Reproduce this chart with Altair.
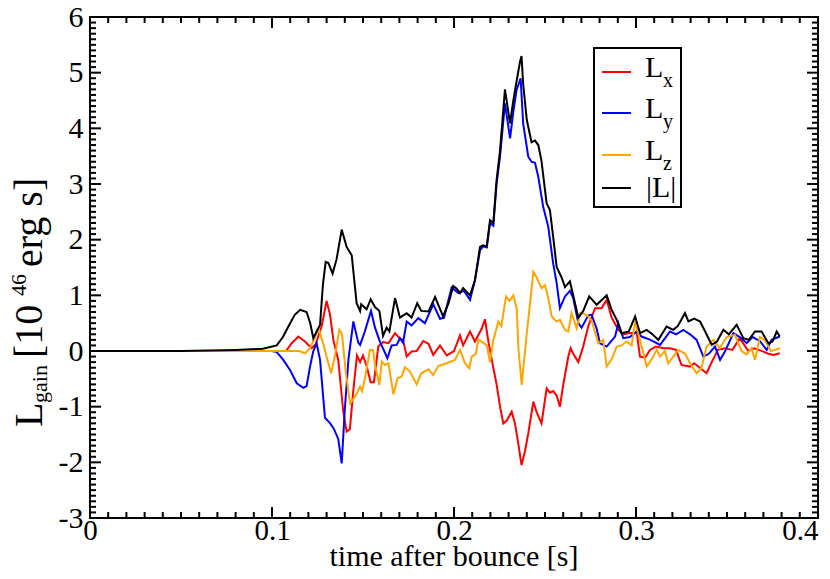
import altair as alt
import pandas as pd

# ---------------- data ----------------
t_lx = [0.0, 0.1, 0.1077, 0.1108, 0.1145, 0.1181, 0.1218, 0.124, 0.1273, 0.13, 0.1319, 0.1337, 0.1364, 0.1392,
        0.141, 0.1428, 0.1447, 0.1467, 0.1484, 0.15, 0.152, 0.1542, 0.156, 0.1584, 0.161, 0.164, 0.1676, 0.1703,
        0.172, 0.174, 0.1767, 0.1795, 0.1831, 0.186, 0.1886, 0.1923, 0.196, 0.2, 0.2033, 0.205, 0.2088, 0.2115,
        0.2152, 0.217, 0.219, 0.2216, 0.2234, 0.2253, 0.2271, 0.229, 0.2317, 0.2335, 0.2353, 0.2371, 0.239, 0.2408,
        0.2436, 0.2454, 0.2481, 0.2509, 0.2527, 0.2545, 0.2564, 0.2582, 0.26, 0.2628, 0.2641, 0.2655, 0.2683, 0.271,
        0.2738, 0.2775, 0.2811, 0.2839, 0.2866, 0.2903, 0.293, 0.2957, 0.3004, 0.3022, 0.305, 0.3077, 0.311, 0.315,
        0.3187, 0.322, 0.325, 0.3297, 0.332, 0.335, 0.3388, 0.3416, 0.345, 0.349, 0.353, 0.357, 0.3617, 0.365, 0.37,
        0.3727, 0.3755, 0.379]
v_lx = [0.0, 0.0, 0.0, 0.14, 0.26, 0.17, 0.05, 0.12, 0.45, 0.9, 0.65, 0.2, -0.16, -1.1,
        -1.45, -1.4, -0.7, -0.08, -0.2, -0.08, -0.27, -0.56, -0.56, 0.08, 0.16, 0.14, 0.32, 0.22,
        0.2, -0.1, -0.01, 0.0, 0.18, 0.13, -0.07, 0.1, -0.08, 0.0, 0.28, 0.1, 0.35, 0.17,
        0.4, 0.57, 0.15, -0.3, -0.6, -1.0, -1.3, -1.25, -1.09, -1.3, -1.66, -2.05, -1.8, -1.48,
        -0.91, -1.1, -1.3, -0.67, -0.75, -0.72, -0.8, -1.0, -0.61, -0.1, 0.05, -0.05, -0.2, 0.08,
        0.45, 0.77, 0.77, 0.92, 0.6, 0.38, 0.3, 0.32, 0.33, -0.1, -0.12, 0.02, 0.08, 0.05,
        0.05, 0.02, -0.25, -0.28, -0.22, -0.3, -0.4, -0.2, 0.02, 0.05, 0.02, 0.23, 0.0, 0.05, -0.01,
        -0.05, -0.07, -0.04]

t_ly = [0.0, 0.1, 0.1026, 0.106, 0.1099, 0.1136, 0.1172, 0.119, 0.1209, 0.1227, 0.1245, 0.1264, 0.1291, 0.132,
        0.134, 0.1364, 0.1383, 0.14, 0.142, 0.1447, 0.1474, 0.1484, 0.151, 0.1544, 0.1566, 0.1593, 0.1634, 0.1657,
        0.1685, 0.1703, 0.172, 0.174, 0.1767, 0.1804, 0.184, 0.1886, 0.1923, 0.1945, 0.1987, 0.2024, 0.2055, 0.2088,
        0.2115, 0.2143, 0.216, 0.218, 0.2198, 0.2216, 0.2234, 0.2253, 0.228, 0.2308, 0.2326, 0.2344, 0.2366, 0.238,
        0.2408, 0.2426, 0.2445, 0.2463, 0.249, 0.2518, 0.2545, 0.2564, 0.2582, 0.261, 0.2637, 0.2655, 0.2683, 0.2701,
        0.2738, 0.2756, 0.2784, 0.2802, 0.2839, 0.2885, 0.2903, 0.293, 0.2966, 0.3004, 0.303, 0.308, 0.3132, 0.3187,
        0.322, 0.326, 0.3297, 0.3333, 0.337, 0.34, 0.3434, 0.3462, 0.349, 0.3535, 0.357, 0.3608, 0.364, 0.368,
        0.3718, 0.3745, 0.379]
v_ly = [0.0, 0.0, -0.02, -0.15, -0.34, -0.58, -0.66, -0.63, -0.28, 0.0, 0.14, -0.16, -1.2, -1.3,
        -1.4, -1.58, -2.02, -1.05, -0.15, 0.53, 0.15, 0.11, 0.35, 0.72, 0.42, 0.17, -0.13, 0.1,
        0.11, 0.23, 0.15, 0.53, 0.46, 0.59, 0.5, 0.84, 0.58, 0.6, 1.14, 1.04, 1.08, 0.92,
        1.27, 1.81, 1.88, 1.86, 2.3, 2.25, 3.0, 3.5, 4.45, 3.82, 4.3, 4.69, 4.9, 4.09,
        3.49, 3.4, 3.38, 3.13, 2.59, 2.23, 1.57, 1.22, 0.77, 0.98, 1.08, 0.95, 0.5, 0.42,
        0.64, 0.65, 0.4, 0.14, 0.08, 0.26, 0.5, 0.23, 0.25, 0.35, 0.26, 0.2, 0.11, 0.35,
        0.3, 0.38, 0.3, 0.2, -0.1, -0.05, 0.08, -0.16, 0.0, 0.32, 0.25, 0.14, 0.25, 0.18,
        0.02, 0.2, 0.26]

t_lz = [0.0, 0.11, 0.115, 0.1181, 0.1209, 0.1236, 0.1257, 0.1282, 0.1302, 0.1325, 0.1346, 0.137, 0.1385, 0.1405,
        0.1429, 0.1456, 0.1484, 0.1495, 0.151, 0.1538, 0.1555, 0.1566, 0.159, 0.1603, 0.1621, 0.164, 0.1667, 0.169,
        0.1712, 0.173, 0.1758, 0.1795, 0.182, 0.186, 0.1886, 0.1914, 0.196, 0.2005, 0.2033, 0.206, 0.2084, 0.2097,
        0.212, 0.2134, 0.216, 0.218, 0.2198, 0.2216, 0.2244, 0.226, 0.2286, 0.2305, 0.2326, 0.2345, 0.2353, 0.2372,
        0.24, 0.2418, 0.2436, 0.2454, 0.2481, 0.25, 0.2518, 0.2537, 0.2564, 0.2582, 0.261, 0.2628, 0.2646, 0.2665,
        0.2674, 0.2692, 0.271, 0.2738, 0.2756, 0.2793, 0.282, 0.2839, 0.2866, 0.2894, 0.292, 0.2949, 0.2976, 0.2995,
        0.3022, 0.3059, 0.3086, 0.3114, 0.3132, 0.3159, 0.3177, 0.3205, 0.3232, 0.327, 0.3297, 0.3333, 0.336, 0.3388,
        0.3425, 0.346, 0.3498, 0.3544, 0.358, 0.3608, 0.3635, 0.3654, 0.3681, 0.3708, 0.374, 0.3763, 0.379]
v_lz = [0.0, 0.0, 0.0, -0.04, 0.05, 0.25, 0.4, 0.12, -0.13, -0.4, -0.08, 0.38, 0.3, -0.38,
        -0.94, -0.82, -0.64, -0.72, -0.5, 0.02, 0.02, -0.25, -0.61, -0.19, -0.25, -0.22, -0.78, -0.49,
        -0.46, -0.29, -0.37, -0.6, -0.4, -0.33, -0.43, -0.27, -0.22, -0.16, 0.02, -0.22, -0.31, -0.1,
        -0.05, 0.2, 0.15, 0.1, -0.2, 0.2, 0.53, 0.45, 0.98, 0.9, 1.0, 0.75, 0.08, -0.61,
        0.32, 0.86, 1.42, 1.32, 1.13, 1.18, 0.95, 0.62, 0.53, 0.56, 0.38, 0.35, 0.68, 0.5,
        0.41, 0.68, 0.68, 0.62, 0.55, 0.14, 0.2, -0.28, -0.15, 0.08, 0.1, 0.17, 0.1, 0.53,
        0.2, -0.28, -0.15, 0.02, -0.1, 0.0, -0.22, -0.1, 0.02, -0.05, -0.22, -0.4, -0.3, 0.08,
        0.2, 0.05, 0.25, 0.29, 0.0, -0.06, 0.05, -0.16, 0.25, 0.2, 0.0, 0.02, 0.05]

t_abs = [0.0, 0.05, 0.08, 0.095, 0.1026, 0.106, 0.109, 0.1125, 0.1155, 0.119, 0.121, 0.1227, 0.1245, 0.1264,
         0.128, 0.1295, 0.131, 0.1333, 0.1355, 0.1383, 0.141, 0.1438, 0.1465, 0.1484, 0.149, 0.152, 0.1542, 0.1566,
         0.159, 0.161, 0.163, 0.1645, 0.1676, 0.1703, 0.174, 0.1767, 0.1798, 0.182, 0.186, 0.1896, 0.194, 0.197,
         0.1996, 0.2015, 0.2033, 0.205, 0.2088, 0.2115, 0.2143, 0.216, 0.218, 0.2198, 0.2216, 0.2234, 0.2253, 0.228,
         0.2308, 0.2326, 0.2344, 0.2363, 0.2371, 0.238, 0.24, 0.2426, 0.2445, 0.2463, 0.248, 0.2509, 0.2527, 0.2545,
         0.2564, 0.259, 0.261, 0.2637, 0.2655, 0.2683, 0.271, 0.2743, 0.2784, 0.2839, 0.2866, 0.2894, 0.292, 0.296,
         0.2995, 0.3022, 0.3059, 0.309, 0.3123, 0.3168, 0.3205, 0.323, 0.3269, 0.3288, 0.332, 0.3352, 0.338, 0.3416,
         0.3445, 0.348, 0.351, 0.3553, 0.359, 0.362, 0.3654, 0.369, 0.3727, 0.375, 0.3773, 0.379]
v_abs = [0.0, 0.0, 0.02, 0.04, 0.1, 0.25, 0.44, 0.65, 0.74, 0.7, 0.5, 0.23, 0.35, 0.47,
         1.2, 1.6, 1.58, 1.39, 1.65, 2.18, 1.87, 1.72, 0.86, 0.72, 0.84, 0.75, 0.93, 0.79,
         0.72, 0.27, 0.42, 0.35, 0.95, 0.6, 0.68, 0.6, 0.86, 0.72, 0.71, 0.97, 0.62, 0.86,
         1.17, 1.12, 1.04, 1.13, 1.0, 1.27, 1.87, 1.9, 1.88, 2.35, 2.3, 3.07, 3.6, 4.7,
         4.09, 4.5, 4.85, 5.2, 5.3, 4.8, 4.15, 3.75, 3.78, 3.7, 3.43, 2.65, 2.53, 2.05,
         1.51, 1.33, 1.15, 1.25, 1.0, 0.6, 0.72, 0.98, 0.83, 1.0, 0.74, 0.56, 0.32, 0.35,
         0.62, 0.32, 0.38, 0.3, 0.2, 0.44, 0.38, 0.45, 0.68, 0.53, 0.58, 0.53, 0.35, 0.11,
         0.17, 0.38, 0.3, 0.47, 0.23, 0.2, 0.35, 0.35, 0.14, 0.17, 0.35, 0.26]

series_names = ["Lx", "Ly", "Lz", "|L|"]
series_colors = ["#ff0000", "#0000ff", "#ffa500", "#000000"]

x_major = [0, 0.1, 0.2, 0.3, 0.4]
y_major = [-3, -2, -1, 0, 1, 2, 3, 4, 5, 6]
x_minor = [i / 100 for i in range(0, 41) if i % 10]
y_minor = [i / 10 for i in range(-30, 61) if i % 10]

# ---------------- layout ----------------
W, H = 728, 501
FONT = "Liberation Serif"
FS = 30

xs = alt.Scale(domain=[0, 0.4], nice=False, zero=False)
ys = alt.Scale(domain=[-3, 6], nice=False, zero=False)

x_axis = alt.Axis(values=x_major, labelExpr="format(datum.value, '.1~f')", ticks=False, domain=False,
                  grid=False, labelFont=FONT, labelFontSize=29, labelColor="black",
                  labelBaseline="alphabetic", labelPadding=21,
                  labelAlign={"condition": {"test": "datum.value > 0.39", "value": "right"}, "value": "center"},
                  labelFlush=False, labelOverlap=False, title=None)
y_axis = alt.Axis(values=y_major, labelExpr="'' + datum.value", ticks=False, domain=False, grid=False,
                  labelFont=FONT, labelFontSize=FS, labelColor="black", labelPadding=7,
                  labelOverlap=False, title=None)

layers = []
one = pd.DataFrame({"k": [0]})

# data lines (first, so that they carry the axes)
for i, (name, t, v) in enumerate(zip(series_names, [t_lx, t_ly, t_lz, t_abs], [v_lx, v_ly, v_lz, v_abs])):
    d = pd.DataFrame({"t": t, "v": v, "s": name})
    layers.append(
        alt.Chart(d).mark_line(strokeWidth=2, color=series_colors[i]).encode(
            x=alt.X("t:Q", scale=xs, axis=x_axis),
            y=alt.Y("v:Q", scale=ys, axis=y_axis),
        )
    )

# tick marks pointing inward, on all four sides
def yticks(vals, length):
    d = pd.DataFrame({"v": vals})
    left = alt.Chart(d).mark_rule(color="black", strokeWidth=2).encode(
        y=alt.Y("v:Q", scale=ys, axis=y_axis), x=alt.value(0), x2=alt.value(length))
    right = alt.Chart(d).mark_rule(color="black", strokeWidth=2).encode(
        y=alt.Y("v:Q", scale=ys, axis=y_axis), x=alt.value(W - length), x2=alt.value(W))
    return [left, right]

def xticks(vals, length):
    d = pd.DataFrame({"t": vals})
    bottom = alt.Chart(d).mark_rule(color="black", strokeWidth=2).encode(
        x=alt.X("t:Q", scale=xs, axis=x_axis), y=alt.value(H - length), y2=alt.value(H))
    top = alt.Chart(d).mark_rule(color="black", strokeWidth=2).encode(
        x=alt.X("t:Q", scale=xs, axis=x_axis), y=alt.value(0), y2=alt.value(length))
    return [bottom, top]

layers += yticks(y_major, 11) + yticks(y_minor, 6) + xticks(x_major, 11) + xticks(x_minor, 6)

# legend box
layers.append(alt.Chart(one).mark_rect(fill="white", stroke="black", strokeWidth=2).encode(
    x=alt.value(504), x2=alt.value(591), y=alt.value(31), y2=alt.value(190)))

leg_line_y = [55, 96, 138, 171]
leg_base_y = [60, 101, 143, 180]
subs = ["x", "y", "z"]
for i in range(4):
    layers.append(alt.Chart(one).mark_rule(color=series_colors[i], strokeWidth=2).encode(
        x=alt.value(512), x2=alt.value(541), y=alt.value(leg_line_y[i])))
    if i < 3:
        layers.append(alt.Chart(one).mark_text(text="L", align="left", baseline="alphabetic", font=FONT,
                                               fontSize=FS, color="black").encode(
            x=alt.value(555), y=alt.value(leg_base_y[i])))
        layers.append(alt.Chart(one).mark_text(text=subs[i], align="left", baseline="alphabetic", font=FONT,
                                               fontSize=20, color="black").encode(
            x=alt.value(573), y=alt.value(leg_base_y[i] + 10)))
    else:
        layers.append(alt.Chart(one).mark_text(text="|L|", align="left", baseline="alphabetic", font=FONT,
                                               fontSize=FS, color="black").encode(
            x=alt.value(556), y=alt.value(leg_base_y[i])))

# x axis title
layers.append(alt.Chart(one).mark_text(text="time after bounce [s]", align="center", baseline="alphabetic",
                                       font=FONT, fontSize=FS, color="black").encode(
    x=alt.value(W / 2), y=alt.value(549)))

# y axis title with sub/superscripts (rotated)
ytitle = [("L", 40, -48, 410), ("gain", 22, -43, 386), ("[10", 40, -48, 341), ("46", 22, -64, 279),
          ("erg s]", 40, -48, 250)]
for txt, fs, xx, yy in ytitle:
    layers.append(alt.Chart(one).mark_text(text=txt, align="left", baseline="alphabetic", angle=270,
                                           font=FONT, fontSize=fs, color="black").encode(
        x=alt.value(xx), y=alt.value(yy)))

chart = alt.layer(*layers).properties(
    width=W, height=H,
    padding={"left": 82, "top": 9, "right": 4, "bottom": 53},
    autosize=alt.AutoSizeParams(type="none"),
).configure_view(stroke="black", strokeWidth=2)

chart.save("out.html", embed_options={"renderer": "svg", "actions": False})
